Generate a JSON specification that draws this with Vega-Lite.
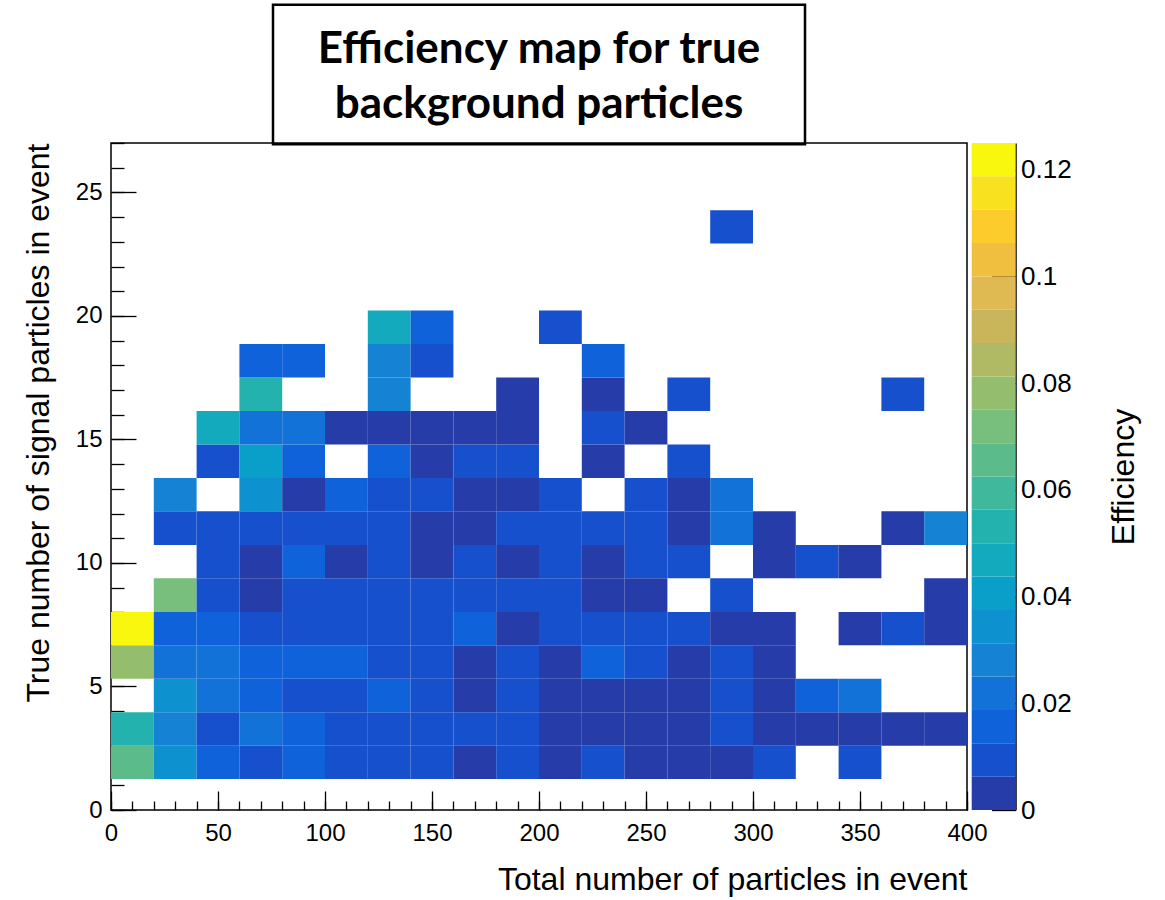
{
  "$schema": "https://vega.github.io/schema/vega-lite/v6.json",
  "width": 856,
  "height": 667,
  "autosize": {"type": "none"},
  "padding": {"left": 111, "top": 143, "right": 198, "bottom": 90},
  "background": "white",
  "config": {
    "view": {"stroke": "black", "strokeWidth": 1.5},
    "axis": {
      "labelFont": "Liberation Sans",
      "titleFont": "Liberation Sans",
      "labelColor": "black",
      "titleColor": "black",
      "tickColor": "black",
      "labelFontSize": 24,
      "titleFontSize": 32,
      "titleFontWeight": "normal",
      "grid": false,
      "domain": false,
      "tickWidth": 1.3,
      "tickCount": 100,
      "labelFlush": false,
      "labelOverlap": false,
      "zindex": 1
    }
  },
  "resolve": {"scale": {"y": "independent"}, "axis": {"y": "independent"}},
  "layer": [
    {
      "resolve": {"axis": {"x": "independent", "y": "independent"}},
      "layer": [
        {
          "data": {
            "values": [
              {"x": 0, "x2": 20, "y": 1.25, "y2": 2.6, "e": 0.0665},
              {"x": 20, "x2": 40, "y": 1.25, "y2": 2.6, "e": 0.035},
              {"x": 40, "x2": 60, "y": 1.25, "y2": 2.6, "e": 0.016},
              {"x": 60, "x2": 80, "y": 1.25, "y2": 2.6, "e": 0.0095},
              {"x": 80, "x2": 100, "y": 1.25, "y2": 2.6, "e": 0.016},
              {"x": 100, "x2": 120, "y": 1.25, "y2": 2.6, "e": 0.0095},
              {"x": 120, "x2": 140, "y": 1.25, "y2": 2.6, "e": 0.0095},
              {"x": 140, "x2": 160, "y": 1.25, "y2": 2.6, "e": 0.0095},
              {"x": 160, "x2": 180, "y": 1.25, "y2": 2.6, "e": 0.003},
              {"x": 180, "x2": 200, "y": 1.25, "y2": 2.6, "e": 0.0095},
              {"x": 200, "x2": 220, "y": 1.25, "y2": 2.6, "e": 0.003},
              {"x": 220, "x2": 240, "y": 1.25, "y2": 2.6, "e": 0.0095},
              {"x": 240, "x2": 260, "y": 1.25, "y2": 2.6, "e": 0.003},
              {"x": 260, "x2": 280, "y": 1.25, "y2": 2.6, "e": 0.003},
              {"x": 280, "x2": 300, "y": 1.25, "y2": 2.6, "e": 0.003},
              {"x": 300, "x2": 320, "y": 1.25, "y2": 2.6, "e": 0.0095},
              {"x": 340, "x2": 360, "y": 1.25, "y2": 2.6, "e": 0.0095},

              {"x": 0, "x2": 20, "y": 2.6, "y2": 3.96, "e": 0.054},
              {"x": 20, "x2": 40, "y": 2.6, "y2": 3.96, "e": 0.0285},
              {"x": 40, "x2": 60, "y": 2.6, "y2": 3.96, "e": 0.0095},
              {"x": 60, "x2": 80, "y": 2.6, "y2": 3.96, "e": 0.022},
              {"x": 80, "x2": 100, "y": 2.6, "y2": 3.96, "e": 0.016},
              {"x": 100, "x2": 120, "y": 2.6, "y2": 3.96, "e": 0.0095},
              {"x": 120, "x2": 140, "y": 2.6, "y2": 3.96, "e": 0.0095},
              {"x": 140, "x2": 160, "y": 2.6, "y2": 3.96, "e": 0.0095},
              {"x": 160, "x2": 180, "y": 2.6, "y2": 3.96, "e": 0.0095},
              {"x": 180, "x2": 200, "y": 2.6, "y2": 3.96, "e": 0.0095},
              {"x": 200, "x2": 220, "y": 2.6, "y2": 3.96, "e": 0.003},
              {"x": 220, "x2": 240, "y": 2.6, "y2": 3.96, "e": 0.003},
              {"x": 240, "x2": 260, "y": 2.6, "y2": 3.96, "e": 0.003},
              {"x": 260, "x2": 280, "y": 2.6, "y2": 3.96, "e": 0.003},
              {"x": 280, "x2": 300, "y": 2.6, "y2": 3.96, "e": 0.0095},
              {"x": 300, "x2": 320, "y": 2.6, "y2": 3.96, "e": 0.003},
              {"x": 320, "x2": 340, "y": 2.6, "y2": 3.96, "e": 0.003},
              {"x": 340, "x2": 360, "y": 2.6, "y2": 3.96, "e": 0.003},
              {"x": 360, "x2": 380, "y": 2.6, "y2": 3.96, "e": 0.003},
              {"x": 380, "x2": 400, "y": 2.6, "y2": 3.96, "e": 0.003},

              {"x": 20, "x2": 40, "y": 3.96, "y2": 5.31, "e": 0.035},
              {"x": 40, "x2": 60, "y": 3.96, "y2": 5.31, "e": 0.022},
              {"x": 60, "x2": 80, "y": 3.96, "y2": 5.31, "e": 0.016},
              {"x": 80, "x2": 100, "y": 3.96, "y2": 5.31, "e": 0.0095},
              {"x": 100, "x2": 120, "y": 3.96, "y2": 5.31, "e": 0.0095},
              {"x": 120, "x2": 140, "y": 3.96, "y2": 5.31, "e": 0.016},
              {"x": 140, "x2": 160, "y": 3.96, "y2": 5.31, "e": 0.0095},
              {"x": 160, "x2": 180, "y": 3.96, "y2": 5.31, "e": 0.003},
              {"x": 180, "x2": 200, "y": 3.96, "y2": 5.31, "e": 0.0095},
              {"x": 200, "x2": 220, "y": 3.96, "y2": 5.31, "e": 0.003},
              {"x": 220, "x2": 240, "y": 3.96, "y2": 5.31, "e": 0.003},
              {"x": 240, "x2": 260, "y": 3.96, "y2": 5.31, "e": 0.003},
              {"x": 260, "x2": 280, "y": 3.96, "y2": 5.31, "e": 0.003},
              {"x": 280, "x2": 300, "y": 3.96, "y2": 5.31, "e": 0.0095},
              {"x": 300, "x2": 320, "y": 3.96, "y2": 5.31, "e": 0.003},
              {"x": 320, "x2": 340, "y": 3.96, "y2": 5.31, "e": 0.016},
              {"x": 340, "x2": 360, "y": 3.96, "y2": 5.31, "e": 0.022},

              {"x": 0, "x2": 20, "y": 5.31, "y2": 6.67, "e": 0.079},
              {"x": 20, "x2": 40, "y": 5.31, "y2": 6.67, "e": 0.022},
              {"x": 40, "x2": 60, "y": 5.31, "y2": 6.67, "e": 0.022},
              {"x": 60, "x2": 80, "y": 5.31, "y2": 6.67, "e": 0.016},
              {"x": 80, "x2": 100, "y": 5.31, "y2": 6.67, "e": 0.016},
              {"x": 100, "x2": 120, "y": 5.31, "y2": 6.67, "e": 0.016},
              {"x": 120, "x2": 140, "y": 5.31, "y2": 6.67, "e": 0.0095},
              {"x": 140, "x2": 160, "y": 5.31, "y2": 6.67, "e": 0.0095},
              {"x": 160, "x2": 180, "y": 5.31, "y2": 6.67, "e": 0.003},
              {"x": 180, "x2": 200, "y": 5.31, "y2": 6.67, "e": 0.0095},
              {"x": 200, "x2": 220, "y": 5.31, "y2": 6.67, "e": 0.003},
              {"x": 220, "x2": 240, "y": 5.31, "y2": 6.67, "e": 0.016},
              {"x": 240, "x2": 260, "y": 5.31, "y2": 6.67, "e": 0.0095},
              {"x": 260, "x2": 280, "y": 5.31, "y2": 6.67, "e": 0.003},
              {"x": 280, "x2": 300, "y": 5.31, "y2": 6.67, "e": 0.0095},
              {"x": 300, "x2": 320, "y": 5.31, "y2": 6.67, "e": 0.003},

              {"x": 0, "x2": 20, "y": 6.67, "y2": 8.02, "e": 0.124},
              {"x": 20, "x2": 40, "y": 6.67, "y2": 8.02, "e": 0.016},
              {"x": 40, "x2": 60, "y": 6.67, "y2": 8.02, "e": 0.016},
              {"x": 60, "x2": 80, "y": 6.67, "y2": 8.02, "e": 0.0095},
              {"x": 80, "x2": 100, "y": 6.67, "y2": 8.02, "e": 0.0095},
              {"x": 100, "x2": 120, "y": 6.67, "y2": 8.02, "e": 0.0095},
              {"x": 120, "x2": 140, "y": 6.67, "y2": 8.02, "e": 0.0095},
              {"x": 140, "x2": 160, "y": 6.67, "y2": 8.02, "e": 0.0095},
              {"x": 160, "x2": 180, "y": 6.67, "y2": 8.02, "e": 0.016},
              {"x": 180, "x2": 200, "y": 6.67, "y2": 8.02, "e": 0.003},
              {"x": 200, "x2": 220, "y": 6.67, "y2": 8.02, "e": 0.0095},
              {"x": 220, "x2": 240, "y": 6.67, "y2": 8.02, "e": 0.0095},
              {"x": 240, "x2": 260, "y": 6.67, "y2": 8.02, "e": 0.0095},
              {"x": 260, "x2": 280, "y": 6.67, "y2": 8.02, "e": 0.0095},
              {"x": 280, "x2": 300, "y": 6.67, "y2": 8.02, "e": 0.003},
              {"x": 300, "x2": 320, "y": 6.67, "y2": 8.02, "e": 0.003},
              {"x": 340, "x2": 360, "y": 6.67, "y2": 8.02, "e": 0.003},
              {"x": 360, "x2": 380, "y": 6.67, "y2": 8.02, "e": 0.0095},
              {"x": 380, "x2": 400, "y": 6.67, "y2": 8.02, "e": 0.003},

              {"x": 20, "x2": 40, "y": 8.02, "y2": 9.38, "e": 0.073},
              {"x": 40, "x2": 60, "y": 8.02, "y2": 9.38, "e": 0.0095},
              {"x": 60, "x2": 80, "y": 8.02, "y2": 9.38, "e": 0.003},
              {"x": 80, "x2": 100, "y": 8.02, "y2": 9.38, "e": 0.0095},
              {"x": 100, "x2": 120, "y": 8.02, "y2": 9.38, "e": 0.0095},
              {"x": 120, "x2": 140, "y": 8.02, "y2": 9.38, "e": 0.0095},
              {"x": 140, "x2": 160, "y": 8.02, "y2": 9.38, "e": 0.0095},
              {"x": 160, "x2": 180, "y": 8.02, "y2": 9.38, "e": 0.0095},
              {"x": 180, "x2": 200, "y": 8.02, "y2": 9.38, "e": 0.0095},
              {"x": 200, "x2": 220, "y": 8.02, "y2": 9.38, "e": 0.0095},
              {"x": 220, "x2": 240, "y": 8.02, "y2": 9.38, "e": 0.003},
              {"x": 240, "x2": 260, "y": 8.02, "y2": 9.38, "e": 0.003},
              {"x": 280, "x2": 300, "y": 8.02, "y2": 9.38, "e": 0.0095},
              {"x": 380, "x2": 400, "y": 8.02, "y2": 9.38, "e": 0.003},

              {"x": 40, "x2": 60, "y": 9.38, "y2": 10.73, "e": 0.0095},
              {"x": 60, "x2": 80, "y": 9.38, "y2": 10.73, "e": 0.003},
              {"x": 80, "x2": 100, "y": 9.38, "y2": 10.73, "e": 0.016},
              {"x": 100, "x2": 120, "y": 9.38, "y2": 10.73, "e": 0.003},
              {"x": 120, "x2": 140, "y": 9.38, "y2": 10.73, "e": 0.0095},
              {"x": 140, "x2": 160, "y": 9.38, "y2": 10.73, "e": 0.003},
              {"x": 160, "x2": 180, "y": 9.38, "y2": 10.73, "e": 0.0095},
              {"x": 180, "x2": 200, "y": 9.38, "y2": 10.73, "e": 0.003},
              {"x": 200, "x2": 220, "y": 9.38, "y2": 10.73, "e": 0.0095},
              {"x": 220, "x2": 240, "y": 9.38, "y2": 10.73, "e": 0.003},
              {"x": 240, "x2": 260, "y": 9.38, "y2": 10.73, "e": 0.0095},
              {"x": 260, "x2": 280, "y": 9.38, "y2": 10.73, "e": 0.0095},
              {"x": 300, "x2": 320, "y": 9.38, "y2": 10.73, "e": 0.003},
              {"x": 320, "x2": 340, "y": 9.38, "y2": 10.73, "e": 0.0095},
              {"x": 340, "x2": 360, "y": 9.38, "y2": 10.73, "e": 0.003},

              {"x": 20, "x2": 40, "y": 10.73, "y2": 12.09, "e": 0.0095},
              {"x": 40, "x2": 60, "y": 10.73, "y2": 12.09, "e": 0.0095},
              {"x": 60, "x2": 80, "y": 10.73, "y2": 12.09, "e": 0.0095},
              {"x": 80, "x2": 100, "y": 10.73, "y2": 12.09, "e": 0.0095},
              {"x": 100, "x2": 120, "y": 10.73, "y2": 12.09, "e": 0.0095},
              {"x": 120, "x2": 140, "y": 10.73, "y2": 12.09, "e": 0.0095},
              {"x": 140, "x2": 160, "y": 10.73, "y2": 12.09, "e": 0.003},
              {"x": 160, "x2": 180, "y": 10.73, "y2": 12.09, "e": 0.003},
              {"x": 180, "x2": 200, "y": 10.73, "y2": 12.09, "e": 0.0095},
              {"x": 200, "x2": 220, "y": 10.73, "y2": 12.09, "e": 0.0095},
              {"x": 220, "x2": 240, "y": 10.73, "y2": 12.09, "e": 0.0095},
              {"x": 240, "x2": 260, "y": 10.73, "y2": 12.09, "e": 0.0095},
              {"x": 260, "x2": 280, "y": 10.73, "y2": 12.09, "e": 0.003},
              {"x": 280, "x2": 300, "y": 10.73, "y2": 12.09, "e": 0.022},
              {"x": 300, "x2": 320, "y": 10.73, "y2": 12.09, "e": 0.003},
              {"x": 360, "x2": 380, "y": 10.73, "y2": 12.09, "e": 0.003},
              {"x": 380, "x2": 400, "y": 10.73, "y2": 12.09, "e": 0.0285},

              {"x": 20, "x2": 40, "y": 12.09, "y2": 13.44, "e": 0.0285},
              {"x": 60, "x2": 80, "y": 12.09, "y2": 13.44, "e": 0.035},
              {"x": 80, "x2": 100, "y": 12.09, "y2": 13.44, "e": 0.003},
              {"x": 100, "x2": 120, "y": 12.09, "y2": 13.44, "e": 0.016},
              {"x": 120, "x2": 140, "y": 12.09, "y2": 13.44, "e": 0.0095},
              {"x": 140, "x2": 160, "y": 12.09, "y2": 13.44, "e": 0.0095},
              {"x": 160, "x2": 180, "y": 12.09, "y2": 13.44, "e": 0.003},
              {"x": 180, "x2": 200, "y": 12.09, "y2": 13.44, "e": 0.003},
              {"x": 200, "x2": 220, "y": 12.09, "y2": 13.44, "e": 0.0095},
              {"x": 240, "x2": 260, "y": 12.09, "y2": 13.44, "e": 0.0095},
              {"x": 260, "x2": 280, "y": 12.09, "y2": 13.44, "e": 0.003},
              {"x": 280, "x2": 300, "y": 12.09, "y2": 13.44, "e": 0.022},

              {"x": 40, "x2": 60, "y": 13.44, "y2": 14.8, "e": 0.0095},
              {"x": 60, "x2": 80, "y": 13.44, "y2": 14.8, "e": 0.041},
              {"x": 80, "x2": 100, "y": 13.44, "y2": 14.8, "e": 0.016},
              {"x": 120, "x2": 140, "y": 13.44, "y2": 14.8, "e": 0.016},
              {"x": 140, "x2": 160, "y": 13.44, "y2": 14.8, "e": 0.003},
              {"x": 160, "x2": 180, "y": 13.44, "y2": 14.8, "e": 0.0095},
              {"x": 180, "x2": 200, "y": 13.44, "y2": 14.8, "e": 0.0095},
              {"x": 220, "x2": 240, "y": 13.44, "y2": 14.8, "e": 0.003},
              {"x": 260, "x2": 280, "y": 13.44, "y2": 14.8, "e": 0.0095},

              {"x": 40, "x2": 60, "y": 14.8, "y2": 16.15, "e": 0.0475},
              {"x": 60, "x2": 80, "y": 14.8, "y2": 16.15, "e": 0.022},
              {"x": 80, "x2": 100, "y": 14.8, "y2": 16.15, "e": 0.022},
              {"x": 100, "x2": 120, "y": 14.8, "y2": 16.15, "e": 0.003},
              {"x": 120, "x2": 140, "y": 14.8, "y2": 16.15, "e": 0.003},
              {"x": 140, "x2": 160, "y": 14.8, "y2": 16.15, "e": 0.003},
              {"x": 160, "x2": 180, "y": 14.8, "y2": 16.15, "e": 0.003},
              {"x": 180, "x2": 200, "y": 14.8, "y2": 16.15, "e": 0.003},
              {"x": 220, "x2": 240, "y": 14.8, "y2": 16.15, "e": 0.0095},
              {"x": 240, "x2": 260, "y": 14.8, "y2": 16.15, "e": 0.003},

              {"x": 60, "x2": 80, "y": 16.15, "y2": 17.51, "e": 0.054},
              {"x": 120, "x2": 140, "y": 16.15, "y2": 17.51, "e": 0.0285},
              {"x": 180, "x2": 200, "y": 16.15, "y2": 17.51, "e": 0.003},
              {"x": 220, "x2": 240, "y": 16.15, "y2": 17.51, "e": 0.003},
              {"x": 260, "x2": 280, "y": 16.15, "y2": 17.51, "e": 0.0095},
              {"x": 360, "x2": 380, "y": 16.15, "y2": 17.51, "e": 0.0095},

              {"x": 60, "x2": 80, "y": 17.51, "y2": 18.86, "e": 0.016},
              {"x": 80, "x2": 100, "y": 17.51, "y2": 18.86, "e": 0.016},
              {"x": 120, "x2": 140, "y": 17.51, "y2": 18.86, "e": 0.0285},
              {"x": 140, "x2": 160, "y": 17.51, "y2": 18.86, "e": 0.0095},
              {"x": 220, "x2": 240, "y": 17.51, "y2": 18.86, "e": 0.016},

              {"x": 120, "x2": 140, "y": 18.86, "y2": 20.22, "e": 0.0475},
              {"x": 140, "x2": 160, "y": 18.86, "y2": 20.22, "e": 0.016},
              {"x": 200, "x2": 220, "y": 18.86, "y2": 20.22, "e": 0.0095},

              {"x": 280, "x2": 300, "y": 22.93, "y2": 24.28, "e": 0.0095}
            ]
          },
          "mark": {"type": "rect"},
          "encoding": {
            "x": {
              "field": "x",
              "type": "quantitative",
              "scale": {"domain": [0, 400], "nice": false, "zero": false},
              "axis": {
                "orient": "bottom",
                "title": "Total number of particles in event",
                "titleAnchor": "end",
                "titlePadding": 19,
                "values": [0, 50, 100, 150, 200, 250, 300, 350, 400],
                "format": "d",
                "tickSize": -19,
                "labelPadding": 30
              }
            },
            "x2": {"field": "x2"},
            "y": {
              "field": "y",
              "type": "quantitative",
              "scale": {"domain": [0, 27], "nice": false, "zero": false},
              "axis": {
                "orient": "left",
                "title": "True number of signal particles in event",
                "titleAnchor": "end",
                "titlePadding": 20,
                "values": [0, 5, 10, 15, 20, 25],
                "format": "d",
                "tickSize": -25,
                "labelPadding": 34
              }
            },
            "y2": {"field": "y2"},
            "color": {
              "field": "e",
              "type": "quantitative",
              "scale": {
                "type": "quantize",
                "domain": [0, 0.125],
                "range": ["#263ca8","#1650cc","#1062da","#1372d8","#1582d4","#0e91cf","#0a9fc9","#14aabe","#24b2ae","#40b89c","#5cbb8b","#78be7c","#94be6e","#b0b964","#c9b65b","#dfb952","#f1bf3f","#fccb2c","#f8e11f","#f9f70e"]
              },
              "legend": null
            }
          }
        },
        {
          "data": {"values": [{}]},
          "mark": {"type": "rect", "filled": false, "stroke": "black", "strokeWidth": 2.5, "clip": false},
          "encoding": {
            "x": {
              "datum": 75.7,
              "type": "quantitative",
              "scale": {"domain": [0, 400], "nice": false, "zero": false},
              "axis": {
                "orient": "bottom",
                "title": null,
                "labels": false,
                "values": [0,10,20,30,40,50,60,70,80,90,100,110,120,130,140,150,160,170,180,190,200,210,220,230,240,250,260,270,280,290,300,310,320,330,340,350,360,370,380,390,400],
                "tickSize": -9
              }
            },
            "x2": {"datum": 324.3},
            "y": {
              "datum": 26.95,
              "type": "quantitative",
              "scale": {"domain": [0, 27], "nice": false, "zero": false},
              "axis": {
                "orient": "left",
                "title": null,
                "labels": false,
                "values": [0,1,2,3,4,5,6,7,8,9,10,11,12,13,14,15,16,17,18,19,20,21,22,23,24,25,26,27],
                "tickSize": -13
              }
            },
            "y2": {"datum": 32.6}
          }
        },
        {
          "data": {"values": [{}]},
          "mark": {
            "type": "text",
            "text": ["Efficiency map for true", "background particles"],
            "font": "Lato",
            "fontWeight": "bold",
            "fontSize": 44,
            "lineHeight": 55,
            "align": "center",
            "baseline": "alphabetic",
            "color": "black",
            "clip": false
          },
          "encoding": {
            "x": {"datum": 200, "type": "quantitative", "scale": {"domain": [0, 400], "nice": false, "zero": false}, "axis": null},
            "y": {"datum": 30.24, "type": "quantitative", "scale": {"domain": [0, 27], "nice": false, "zero": false}, "axis": null}
          }
        }
      ]
    },
    {
      "data": {
        "values": [
          {"lo": 0, "hi": 0.00625, "e": 0.003125},
          {"lo": 0.00625, "hi": 0.0125, "e": 0.009375},
          {"lo": 0.0125, "hi": 0.01875, "e": 0.015625},
          {"lo": 0.01875, "hi": 0.025, "e": 0.021875},
          {"lo": 0.025, "hi": 0.03125, "e": 0.028125},
          {"lo": 0.03125, "hi": 0.0375, "e": 0.034375},
          {"lo": 0.0375, "hi": 0.04375, "e": 0.040625},
          {"lo": 0.04375, "hi": 0.05, "e": 0.046875},
          {"lo": 0.05, "hi": 0.05625, "e": 0.053125},
          {"lo": 0.05625, "hi": 0.0625, "e": 0.059375},
          {"lo": 0.0625, "hi": 0.06875, "e": 0.065625},
          {"lo": 0.06875, "hi": 0.075, "e": 0.071875},
          {"lo": 0.075, "hi": 0.08125, "e": 0.078125},
          {"lo": 0.08125, "hi": 0.0875, "e": 0.084375},
          {"lo": 0.0875, "hi": 0.09375, "e": 0.090625},
          {"lo": 0.09375, "hi": 0.1, "e": 0.096875},
          {"lo": 0.1, "hi": 0.10625, "e": 0.103125},
          {"lo": 0.10625, "hi": 0.1125, "e": 0.109375},
          {"lo": 0.1125, "hi": 0.11875, "e": 0.115625},
          {"lo": 0.11875, "hi": 0.125, "e": 0.121875}
        ]
      },
      "mark": {"type": "rect", "clip": false},
      "encoding": {
        "x": {"datum": 402.2, "type": "quantitative", "scale": {"domain": [0, 400], "nice": false, "zero": false}, "axis": null},
        "x2": {"datum": 422.7},
        "y": {
          "field": "lo",
          "type": "quantitative",
          "scale": {"domain": [0, 0.125], "nice": false, "zero": false},
          "axis": {
            "orient": "right",
            "offset": 48.5,
            "values": [0, 0.02, 0.04, 0.06, 0.08, 0.1, 0.12],
            "format": "~g",
            "tickSize": -24,
            "labelPadding": 29,
            "labelFontSize": 26,
            "domain": true,
            "domainColor": "black",
            "domainWidth": 1.5,
            "title": "Efficiency",
            "titleAngle": 270,
            "titleBaseline": "top",
            "titleAnchor": "middle",
            "titlePadding": 37
          }
        },
        "y2": {"field": "hi"},
        "color": {
          "field": "e",
          "type": "quantitative",
          "scale": {
            "type": "quantize",
            "domain": [0, 0.125],
            "range": ["#263ca8","#1650cc","#1062da","#1372d8","#1582d4","#0e91cf","#0a9fc9","#14aabe","#24b2ae","#40b89c","#5cbb8b","#78be7c","#94be6e","#b0b964","#c9b65b","#dfb952","#f1bf3f","#fccb2c","#f8e11f","#f9f70e"]
          },
          "legend": null
        }
      }
    }
  ]
}
